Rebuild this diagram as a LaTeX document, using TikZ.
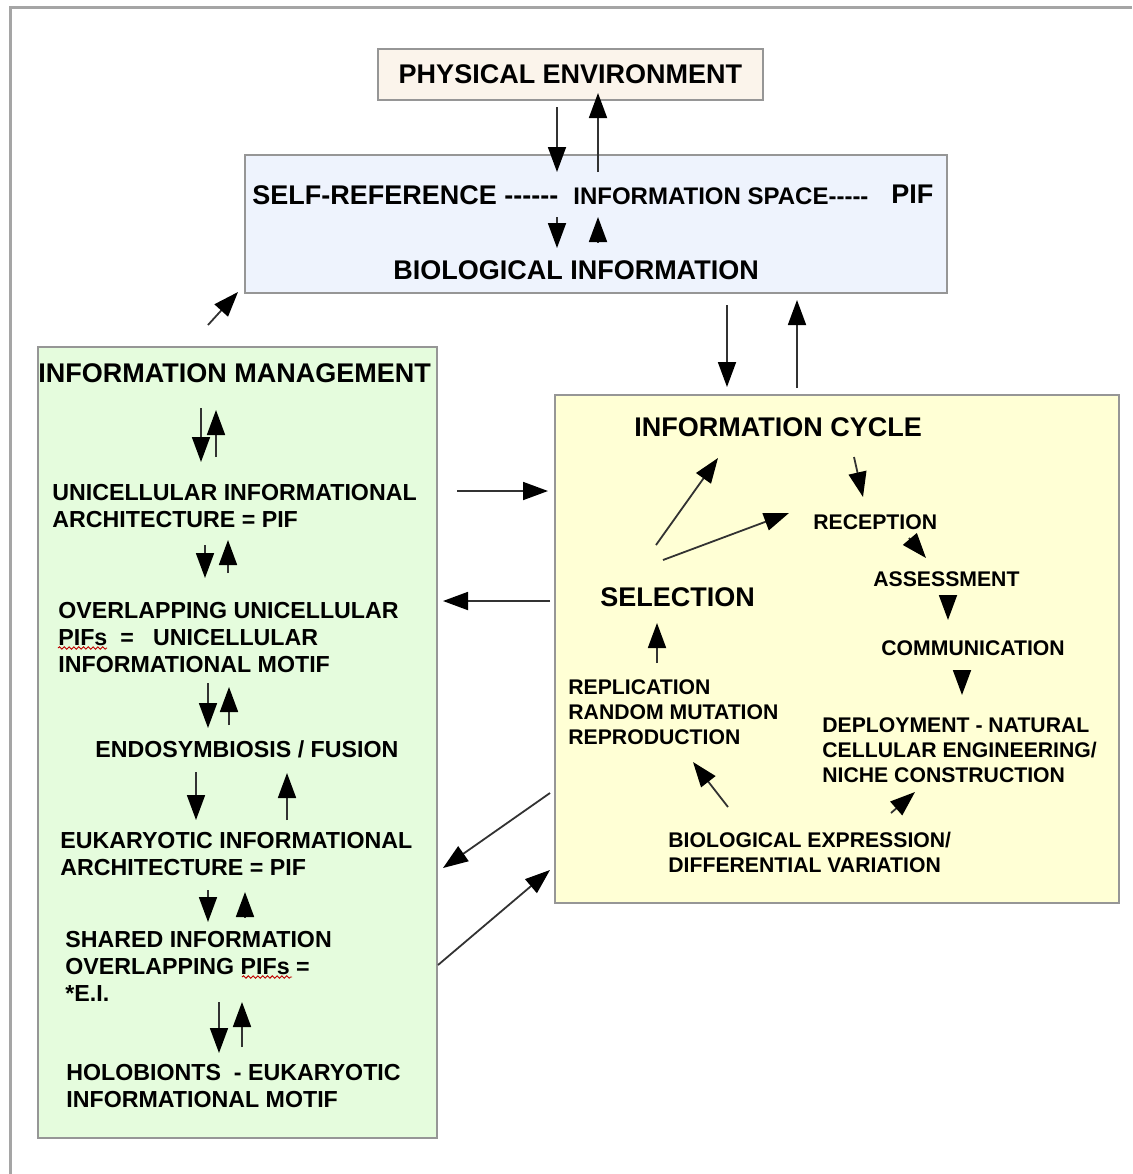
\documentclass[tikz,border=0pt]{standalone}
\usepackage{fontspec}
\setmainfont{Liberation Sans}
\usetikzlibrary{arrows.meta, decorations.pathmorphing}

\definecolor{envfill}{RGB}{251,244,235}
\definecolor{bluefill}{RGB}{238,243,253}
\definecolor{greenfill}{RGB}{229,252,221}
\definecolor{yellowfill}{RGB}{255,255,213}
\definecolor{edgegray}{RGB}{150,150,150}
\definecolor{framegray}{RGB}{165,165,165}
\definecolor{arrowgray}{RGB}{50,50,50}

\tikzset{
  hd/.style={font=\bfseries\fontsize{13.5}{16}\selectfont, inner sep=0pt, anchor=north west},
  gtxt/.style={font=\bfseries\fontsize{11.6}{13.4}\selectfont, align=left, inner sep=0pt, anchor=north west},
  ytxt/.style={font=\bfseries\fontsize{10.6}{12.5}\selectfont, align=left, inner sep=0pt, anchor=north west},
  boxline/.style={draw=edgegray, line width=0.8pt},
  arr/.style={draw=arrowgray, line width=0.9pt, -{Triangle[length=12.5pt,width=9pt,color=black]}},
  wavy/.style={draw=red!75!black, line width=0.45pt, decorate, decoration={snake, amplitude=0.6pt, segment length=2.4pt}},
}

\begin{document}
\begin{tikzpicture}[x=0.5pt, y=-0.5pt]
    \useasboundingbox (0,0) rectangle (1132,1174);
    \draw[framegray, line width=1.5pt] (10,1174) -- (10,7) -- (1132,7);

    % boxes
    \draw[boxline, fill=envfill] (378,49) rectangle (763,100) node[midway, hd, anchor=center] (physenv) {PHYSICAL ENVIRONMENT};
    \draw[boxline, fill=bluefill] (245,155) rectangle (947,293);
    \draw[boxline, fill=greenfill] (38,347) rectangle (437,1138);
    \draw[boxline, fill=yellowfill] (555,395) rectangle (1119,903);

    % information space
    \node[hd] (selfref) at (252,185) {SELF-REFERENCE -{}-{}-{}-{}-{}-};
    \node[hd, font=\bfseries\fontsize{12}{14}\selectfont] (infospace) at (573,187) {INFORMATION SPACE-{}-{}-{}-{}-};
    \node[hd] (pif) at (891,185) {PIF};
    \node[hd, anchor=north] (bioinfo) at (576,260) {BIOLOGICAL INFORMATION};

    % information management
    \node[hd] (infomgmt) at (38,363) {INFORMATION MANAGEMENT};
    \node[gtxt] (unic) at (52,484) {UNICELLULAR INFORMATIONAL\\ARCHITECTURE = PIF};
    \node[gtxt] (overlap) at (58,602) {OVERLAPPING UNICELLULAR\\PIFs~~=~~~UNICELLULAR\\INFORMATIONAL MOTIF};
    \node[gtxt] (endo) at (95,740) {ENDOSYMBIOSIS / FUSION};
    \node[gtxt] (euk) at (60,832) {EUKARYOTIC INFORMATIONAL\\ARCHITECTURE = PIF};
    \node[gtxt] (shared) at (65,931) {SHARED INFORMATION\\OVERLAPPING PIFs =\\*E.I.};
    \node[gtxt] (holo) at (66,1064) {HOLOBIONTS~~- EUKARYOTIC\\INFORMATIONAL MOTIF};
    \draw[wavy] (58,648) -- (107,648);
    \draw[wavy] (242,977) -- (292,977);

    % information cycle
    \node[hd] (infocycle) at (634,417) {INFORMATION CYCLE};
    \node[hd] (selection) at (600,587) {SELECTION};
    \node[ytxt] (reception) at (813,514) {RECEPTION};
    \node[ytxt] (assess) at (873,571) {ASSESSMENT};
    \node[ytxt] (comm) at (881,640) {COMMUNICATION};
    \node[ytxt] (deploy) at (822,717) {DEPLOYMENT - NATURAL\\CELLULAR ENGINEERING/\\NICHE CONSTRUCTION};
    \node[ytxt] (bioexpr) at (668,832) {BIOLOGICAL EXPRESSION/\\DIFFERENTIAL VARIATION};
    \node[ytxt] (repl) at (568,679) {REPLICATION\\RANDOM MUTATION\\REPRODUCTION};

    % arrows: name / tail / head
    \foreach \n/\xa/\ya/\xb/\yb in {
        envdn/557/107/557/172, envup/598/172/598/93,
        biodn/557/217/557/248, bioup/598/242/598/217,
        cycdn/727/305/727/387, cycup/797/388/797/300,
        mgmtup/208/325/238/292,
        toyel/457/491/548/491, togrn/550/601/443/601,
        eukin/550/793/443/868, eiout/438/965/550/870,
        m1dn/201/408/201/462, m1up/216/457/216/410,
        m2dn/205/545/205/578, m2up/228/573/228/540,
        m3dn/208/683/208/728, m3up/229/725/229/687,
        m4dn/196/772/196/820, m4up/287/820/287/773,
        m5dn/208/890/208/922, m5up/245/917/245/892,
        m6dn/219/1002/219/1053, m6up/242/1047/242/1002,
        selcyc/656/545/718/458, selrec/663/560/789/513,
        cycrec/854/457/863/497, recass/909/538/926/558,
        asscom/948/597/948/620, comdep/962/672/962/695,
        expdep/891/813/915/792, exprep/728/807/693/762,
        repsel/657/663/657/623}
    {
        \coordinate (\n-a) at (\xa,\ya);
        \coordinate (\n-b) at (\xb,\yb);
        \draw[arr] (\n-a) -- (\n-b);
    }
\end{tikzpicture}
\end{document}
